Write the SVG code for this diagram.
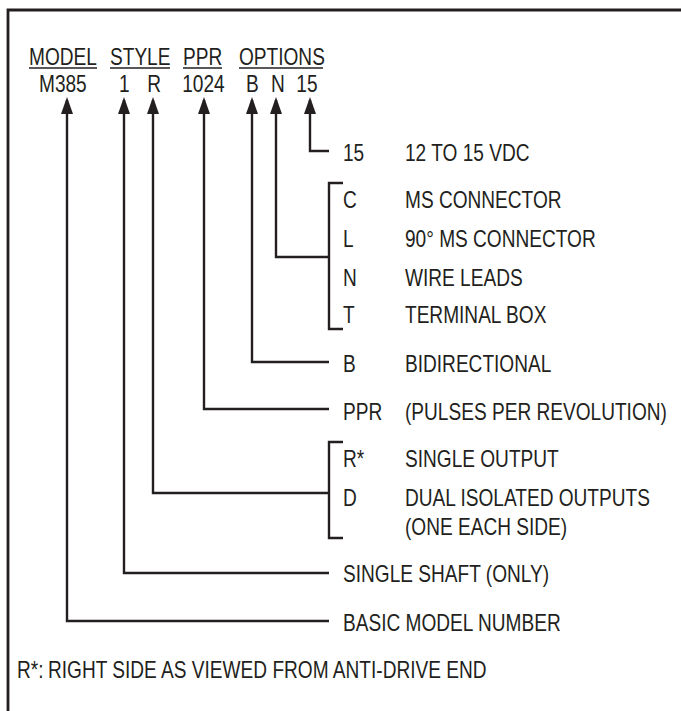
<svg xmlns="http://www.w3.org/2000/svg" width="681" height="711" viewBox="0 0 681 711">
  <style>
    .t { font-family: "Liberation Sans", Arial, Helvetica, sans-serif; font-size: 23px; fill: #231f20; }
    .ln { fill: none; stroke: #231f20; stroke-width: 2.4; stroke-linejoin: miter; stroke-linecap: butt; }
    .ul { fill: none; stroke: #231f20; stroke-width: 1.4; }
    .frame { fill: none; stroke: #231f20; stroke-width: 2.8; }
  </style>
  <defs>
    <marker id="arr" markerUnits="userSpaceOnUse" viewBox="0 0 17 12" markerWidth="17" markerHeight="12" refX="14" refY="6" orient="auto">
      <path d="M0,0 L17,6 L0,12 z" fill="#231f20"/>
    </marker>
  </defs>
  <rect width="681" height="711" fill="#ffffff"/>
  <path class="frame" d="M8,712 V10 H682"/>

  <g id="header">
    <text class="t" transform="scale(0.83 1)" y="65"><tspan x="34.94">MODEL</tspan><tspan x="132.53">STYLE</tspan><tspan x="220.48">PPR</tspan><tspan x="287.95">OPTIONS</tspan></text>
    <line class="ul" x1="29" y1="68" x2="97" y2="68"/>
    <line class="ul" x1="110" y1="68" x2="170" y2="68"/>
    <line class="ul" x1="183" y1="68" x2="222" y2="68"/>
    <line class="ul" x1="239" y1="68" x2="323" y2="68"/>
  </g>
  <g id="code">
    <text class="t" transform="scale(0.83 1)" y="92.5"><tspan x="46.99">M385</tspan><tspan x="143.5">1</tspan><tspan x="177.5">R</tspan><tspan x="219.5">1024</tspan><tspan x="296.5">B</tspan><tspan x="326.5">N</tspan><tspan x="357">15</tspan></text>
  </g>

  <g id="connectors">
    <polyline class="ln" points="329,621 67,621 67,100" marker-end="url(#arr)"/>
    <polyline class="ln" points="329,573 124,573 124,100" marker-end="url(#arr)"/>
    <polyline class="ln" points="329,493 153,493 153,100" marker-end="url(#arr)"/>
    <polyline class="ln" points="329,409 204,409 204,100" marker-end="url(#arr)"/>
    <polyline class="ln" points="329,362 252,362 252,100" marker-end="url(#arr)"/>
    <polyline class="ln" points="329,257 276,257 276,100" marker-end="url(#arr)"/>
    <polyline class="ln" points="329,151 310,151 310,100" marker-end="url(#arr)"/>
    <polyline class="ln" points="343,183 329,183 329,329 343,329"/>
    <polyline class="ln" points="343,442 329,442 329,538 343,538"/>
  </g>

  <g id="opt-voltage">
    <text class="t" transform="scale(0.83 1)" y="161"><tspan x="413.25">15</tspan><tspan x="487.95">12 TO 15 VDC</tspan></text>
  </g>
  <g id="opt-connector">
    <text class="t" transform="scale(0.83 1)" y="208"><tspan x="413.25">C</tspan><tspan x="487.95">MS CONNECTOR</tspan></text>
    <text class="t" transform="scale(0.83 1)" y="247"><tspan x="413.25">L</tspan><tspan x="487.95">90° MS CONNECTOR</tspan></text>
    <text class="t" transform="scale(0.83 1)" y="286"><tspan x="413.25">N</tspan><tspan x="487.95">WIRE LEADS</tspan></text>
    <text class="t" transform="scale(0.83 1)" y="323"><tspan x="413.25">T</tspan><tspan x="487.95">TERMINAL BOX</tspan></text>
  </g>
  <g id="opt-direction">
    <text class="t" transform="scale(0.83 1)" y="372"><tspan x="413.25">B</tspan><tspan x="487.95">BIDIRECTIONAL</tspan></text>
  </g>
  <g id="ppr">
    <text class="t" transform="scale(0.83 1)" y="420"><tspan x="413.25">PPR</tspan><tspan x="487.95">(PULSES PER REVOLUTION)</tspan></text>
  </g>
  <g id="style-output">
    <text class="t" transform="scale(0.83 1)" y="467"><tspan x="413.25">R*</tspan><tspan x="487.95">SINGLE OUTPUT</tspan></text>
    <text class="t" transform="scale(0.83 1)" y="506"><tspan x="413.25">D</tspan><tspan x="487.95">DUAL ISOLATED OUTPUTS</tspan></text>
    <text class="t" transform="scale(0.83 1)" y="535" x="487.95">(ONE EACH SIDE)</text>
  </g>
  <g id="style-shaft">
    <text class="t" transform="scale(0.83 1)" y="582" x="413.25">SINGLE SHAFT (ONLY)</text>
  </g>
  <g id="model">
    <text class="t" transform="scale(0.83 1)" y="631" x="413.25">BASIC MODEL NUMBER</text>
  </g>
  <g id="footnote">
    <text class="t" transform="scale(0.83 1)" y="678"><tspan x="20.48">R*:</tspan><tspan x="57.83">RIGHT SIDE AS VIEWED FROM ANTI-DRIVE END</tspan></text>
  </g>
</svg>
